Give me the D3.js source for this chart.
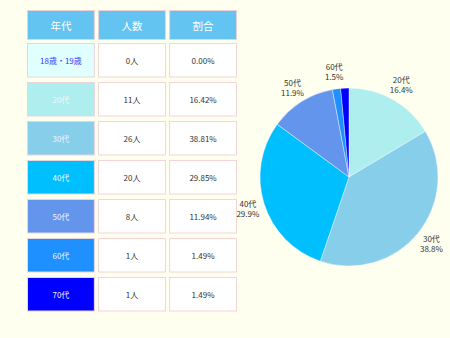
<!DOCTYPE html>
<html>
<head>
<meta charset="utf-8">
<script src="https://cdn.jsdelivr.net/npm/d3@7"></script>
<style>
  html, body { margin: 0; padding: 0; background: #fffff0; }
  svg { display: block; font-family: "Noto Sans CJK JP", "Noto Sans", sans-serif; }
</style>
</head>
<body>
<svg id="chart" width="450" height="338"></svg>
<script>
// Age groups, head counts and shares
const ageGroups = ["18歳・19歳", "20代", "30代", "40代", "50代", "60代", "70代"];
const counts = [0, 11, 26, 20, 8, 1, 1];
const shares = [0.00, 16.42, 38.81, 29.85, 11.94, 1.49, 1.49];
const pieLabels = ["", "16.4%", "38.8%", "29.9%", "11.9%", "1.5%", ""];
const groupColors = ["#e0ffff", "#afeeee", "#87ceeb", "#00bfff", "#6495ed", "#1e90ff", "#0000ff"];
const headers = ["年代", "人数", "割合"];

const svg = d3.select("#chart");

// ---- Table ----
const x = d3.scaleBand().domain(d3.range(3)).range([27, 237]).paddingInner(0.045).paddingOuter(0);
const rowPitch = 39;
const headerTop = 10, headerH = 30;
const y = d3.scaleLinear().domain([0, 1]).range([43, 43 + rowPitch]);
const rowH = 34.5;

const head = svg.append("g");
head.selectAll("rect").data(headers).join("rect")
  .attr("x", (d, i) => x(i) + 0.5).attr("y", headerTop + 0.5)
  .attr("width", x.bandwidth() - 1).attr("height", headerH - 1)
  .attr("fill", "#63c4f2").attr("stroke", "#ecd0d8").attr("stroke-width", 1);
head.selectAll("text").data(headers).join("text")
  .attr("x", (d, i) => x(i) + x.bandwidth() / 2).attr("y", headerTop + headerH / 2)
  .attr("text-anchor", "middle").attr("dominant-baseline", "central")
  .attr("fill", "#ffffff").attr("font-size", 10.5).text(d => d);

const rows = svg.append("g").selectAll("g").data(ageGroups).join("g")
  .attr("transform", (d, i) => `translate(0,${y(i)})`);

// First column: colored age cell
rows.append("rect")
  .attr("x", x(0) + 0.5).attr("y", 0.5)
  .attr("width", x.bandwidth() - 1).attr("height", rowH - 1)
  .attr("fill", (d, i) => groupColors[i])
  .attr("stroke", "#e8d4dc").attr("stroke-width", 1);
rows.append("text")
  .attr("x", x(0) + x.bandwidth() / 2).attr("y", rowH / 2)
  .attr("text-anchor", "middle").attr("dominant-baseline", "central")
  .attr("font-size", 8)
  .attr("fill", (d, i) => i === 0 ? "#3a3aff" : "#eef6ff")
  .text(d => d);

// Count and share cells
const valueCols = [counts.map(c => c + "人"), shares.map(s => s.toFixed(2) + "%")];
valueCols.forEach((col, ci) => {
  rows.append("rect")
    .attr("x", x(ci + 1) + 0.5).attr("y", 0.5)
    .attr("width", x.bandwidth() - 1).attr("height", rowH - 1)
    .attr("fill", "#ffffff").attr("stroke", "#f4d4d4").attr("stroke-width", 1);
  rows.append("text")
    .attr("x", x(ci + 1) + x.bandwidth() / 2).attr("y", rowH / 2)
    .attr("text-anchor", "middle").attr("dominant-baseline", "central")
    .attr("font-size", 8).attr("fill", "#333333")
    .text((d, i) => col[i]);
});

// ---- Pie ----
const cx = 349, cy = 177, radius = 89;
const pieData = ageGroups.map((g, i) => ({ name: g, count: counts[i], share: shares[i], label: pieLabels[i], color: groupColors[i] }));
const pie = d3.pie().sort(null).value(d => d.count)(pieData);
const arc = d3.arc().innerRadius(0).outerRadius(radius);
const labelArc = d3.arc().innerRadius(106).outerRadius(106);

const pg = svg.append("g").attr("transform", `translate(${cx},${cy})`);
pg.selectAll("path").data(pie.filter(d => d.data.count > 0)).join("path")
  .attr("d", arc).attr("fill", d => d.data.color)
  .attr("stroke", "#ffffff").attr("stroke-width", 0.4);

const lbl = pg.selectAll("text").data(pie.filter(d => d.data.label)).join("text")
  .attr("transform", d => `translate(${labelArc.centroid(d)})`)
  .attr("text-anchor", "middle").attr("font-size", 8).attr("fill", "#333333");
lbl.append("tspan").attr("x", 0).attr("dy", "-0.2em").text(d => d.data.name);
lbl.append("tspan").attr("x", 0).attr("dy", "1.25em").text(d => d.data.label);
</script>
</body>
</html>
